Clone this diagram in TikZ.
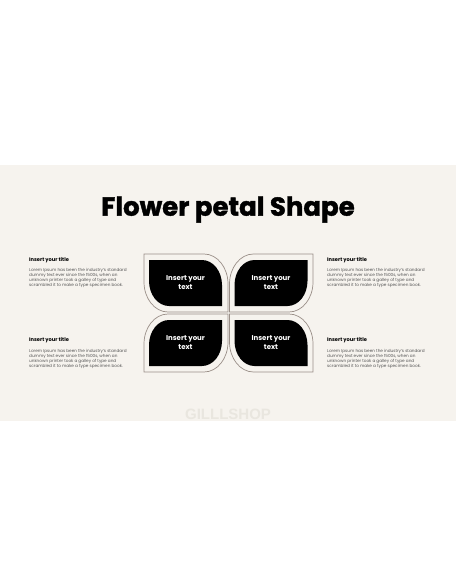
\documentclass[tikz,border=0pt]{standalone}
\usepackage{fontspec}
\setmainfont{Poppins}
\newfontfamily\titlefont{Poppins}[BoldFeatures={FakeBold=1.6}]
\newfontfamily\wmfont{Liberation Sans}
\definecolor{slidebg}{HTML}{F6F3EE}
\definecolor{petalline}{HTML}{9A8F88}
\definecolor{bodygray}{HTML}{555555}
\definecolor{wmgray}{HTML}{E9E6DF}
% leaf with rounded top-right and bottom-left corners
\newcommand\leafA[7]{\path[#1] (#2,#3) -- ({#4-#6},#3) .. controls ({#4-0.448*#6},#3) and (#4,{#3+0.448*#7}) .. (#4,{#3+#7}) -- (#4,#5) -- ({#2+#6},#5) .. controls ({#2+0.448*#6},#5) and (#2,{#5-0.448*#7}) .. (#2,{#5-#7}) -- cycle;}
% leaf with rounded top-left and bottom-right corners
\newcommand\leafB[7]{\path[#1] (#2,{#3+#7}) .. controls (#2,{#3+0.448*#7}) and ({#2+0.448*#6},#3) .. ({#2+#6},#3) -- (#4,#3) -- (#4,{#5-#7}) .. controls (#4,{#5-0.448*#7}) and ({#4-0.448*#6},#5) .. ({#4-#6},#5) -- (#2,#5) -- cycle;}
\tikzset{
  outline/.style={draw=petalline, line width=0.7pt, fill=slidebg},
  blackleaf/.style={fill=black},
  leaftext/.style={text=white, align=center, font=\fontsize{7}{9}\selectfont\bfseries},
  sidetitle/.style={anchor=west, font=\fontsize{5.1}{6}\selectfont\bfseries, text=black, inner sep=0pt},
  sidebody/.style={anchor=north west, align=left, font=\fontsize{4.2}{5}\selectfont, text=bodygray, inner sep=0pt}
}
\begin{document}
\begin{tikzpicture}[x=1pt,y=-1pt]
\useasboundingbox (0,0) rectangle (456,586);
\fill[white] (0,0) rectangle (456,586);
\fill[slidebg] (0,165) rectangle (456,420.7);
% title
\node[anchor=base, font=\titlefont\bfseries\fontsize{26}{30}\selectfont, inner sep=0pt] (title) at (228,215.7) {Flower petal Shape};
% outlines
\leafA{outline}{144}{254}{228}{312}{24}{30}
\leafB{outline}{229.5}{254}{313}{312}{24}{30}
\leafB{outline}{144}{314}{228}{372}{24}{30}
\leafA{outline}{229.5}{314}{313}{372}{24}{30}
% black petals
\leafA{blackleaf}{149}{260}{222}{306}{20}{25}
\leafB{blackleaf}{234.5}{260}{307.5}{306}{20}{25}
\leafB{blackleaf}{149}{320}{222}{366}{20}{25}
\leafA{blackleaf}{234.5}{320}{307.5}{366}{20}{25}
% petal texts
\node[leaftext] (t1) at (185.5,283) {Insert your\\text};
\node[leaftext] (t2) at (271,283) {Insert your\\text};
\node[leaftext] (t3) at (185.5,343) {Insert your\\text};
\node[leaftext] (t4) at (271,343) {Insert your\\text};
% side texts
\node[sidetitle] (s1) at (29,260.3) {Insert your title};
\node[sidebody] (b1) at (29,268.6) {Lorem Ipsum has been the industry's standard\\dummy text ever since the 1500s, when an\\unknown printer took a galley of type and\\scrambled it to make a type specimen book.};
\node[sidetitle] (s2) at (29,340.3) {Insert your title};
\node[sidebody] (b2) at (29,348.6) {Lorem Ipsum has been the industry's standard\\dummy text ever since the 1500s, when an\\unknown printer took a galley of type and\\scrambled it to make a type specimen book.};
\node[sidetitle] (s3) at (327,260.3) {Insert your title};
\node[sidebody] (b3) at (327,268.6) {Lorem Ipsum has been the industry's standard\\dummy text ever since the 1500s, when an\\unknown printer took a galley of type and\\scrambled it to make a type specimen book.};
\node[sidetitle] (s4) at (327,340.3) {Insert your title};
\node[sidebody] (b4) at (327,348.6) {Lorem Ipsum has been the industry's standard\\dummy text ever since the 1500s, when an\\unknown printer took a galley of type and\\scrambled it to make a type specimen book.};
% watermark
\node[anchor=base, font=\wmfont\bfseries\fontsize{15}{16}\selectfont, text=wmgray, inner sep=0pt] (wm) at (228,419.5) {GILLLSHOP};
\end{tikzpicture}
\end{document}
